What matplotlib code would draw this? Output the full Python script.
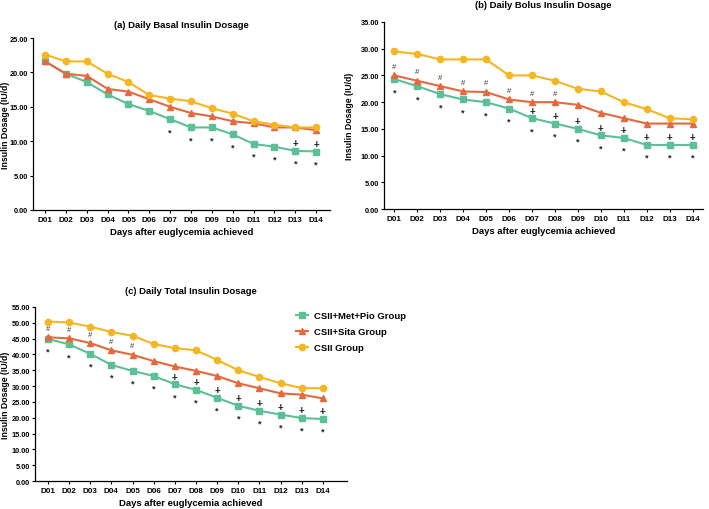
import matplotlib
matplotlib.use("Agg")
import matplotlib.pyplot as plt
import numpy as np

plt.rcParams['font.family'] = ['Liberation Sans', 'DejaVu Sans']
plt.rcParams['font.weight'] = 'bold'

days = ["D01", "D02", "D03", "D04", "D05", "D06", "D07", "D08", "D09", "D10", "D11", "D12", "D13", "D14"]
groups = ["CSII+Met+Pio Group", "CSII+Sita Group", "CSII Group"]

basal_met = [21.6, 19.8, 18.6, 16.8, 15.4, 14.4, 13.2, 12.0, 12.0, 11.0, 9.6, 9.2, 8.6, 8.5]
basal_sita = [21.6, 19.8, 19.5, 17.6, 17.2, 16.1, 15.0, 14.1, 13.6, 12.9, 12.6, 12.0, 12.0, 11.6]
basal_csii = [22.6, 21.6, 21.6, 19.8, 18.6, 16.7, 16.2, 15.8, 14.8, 14.0, 12.9, 12.4, 12.0, 12.0]

bolus_met = [24.3, 23.0, 21.5, 20.5, 20.0, 18.8, 17.0, 16.0, 15.0, 13.8, 13.3, 12.0, 12.0, 12.0]
bolus_sita = [25.0, 24.0, 23.0, 22.0, 21.9, 20.5, 20.0, 20.0, 19.5, 18.0, 17.0, 16.0, 16.0, 16.0]
bolus_csii = [29.5, 29.0, 28.0, 28.0, 28.0, 25.0, 25.0, 24.0, 22.5, 22.0, 20.0, 18.7, 17.0, 16.8]

total_met = [44.9, 43.2, 40.2, 36.7, 34.8, 33.2, 30.6, 28.8, 26.3, 23.8, 22.2, 21.0, 19.9, 19.6]
total_sita = [45.4, 45.1, 43.6, 41.3, 39.9, 37.9, 36.2, 34.8, 33.2, 30.9, 29.3, 27.7, 27.3, 26.1]
total_csii = [50.4, 50.1, 48.8, 47.1, 45.9, 43.3, 42.0, 41.3, 38.3, 35.0, 32.9, 30.9, 29.4, 29.3]

# significance marks (day indices)
basal_star = [6, 7, 8, 9, 10, 11, 12, 13]
basal_plus = [12, 13]
basal_hash = []
bolus_star = list(range(14))
bolus_plus = [6, 7, 8, 9, 10, 11, 12, 13]
bolus_hash = [0, 1, 2, 3, 4, 5, 6, 7]
total_star = list(range(14))
total_plus = [6, 7, 8, 9, 10, 11, 12, 13]
total_hash = [0, 1, 2, 3, 4]

colors = ["#5dbf96", "#e4693f", "#f5b624"]
markers = ["s", "^", "o"]

fig = plt.figure(figsize=(7.09, 5.10), dpi=100)

panels = [
    dict(rect=[0.0465, 0.5863, 0.419, 0.3372], data=(basal_met, basal_sita, basal_csii),
         ymax=25, xlim=(-0.58, 13.67), title="(a) Daily Basal Insulin Dosage",
         star=basal_star, plus=basal_plus, hsh=basal_hash, titlepad=8, ylx=-0.078),
    dict(rect=[0.5416, 0.588, 0.4499, 0.367], data=(bolus_met, bolus_sita, bolus_csii),
         ymax=35, xlim=(-0.45, 13.45), title="(b) Daily Bolus Insulin Dosage",
         star=bolus_star, plus=bolus_plus, hsh=bolus_hash, titlepad=11, ylx=-0.094),
    dict(rect=[0.0494, 0.0549, 0.4396, 0.3412], data=(total_met, total_sita, total_csii),
         ymax=55, xlim=(-0.61, 14.13), title="(c) Daily Total Insulin Dosage",
         star=total_star, plus=total_plus, hsh=total_hash, titlepad=10, ylx=-0.080),
]

handles = []
for p in panels:
    ax = fig.add_axes(p["rect"])
    x = np.arange(len(days))
    hs = []
    for vals, c, m, lab in zip(p["data"], colors, markers, groups):
        h, = ax.plot(x, vals, color=c, marker=m, markersize=4.5, linewidth=1.5, label=lab)
        hs.append(h)
    handles = hs
    met, sita, csii = p["data"]
    for i in p["star"]:
        ax.annotate("*", (x[i], met[i]), xytext=(0, -9), textcoords="offset points",
                    ha="center", va="center", fontsize=6.5, color="#222222")
    for i in p["plus"]:
        ax.annotate("+", (x[i], met[i]), xytext=(0, 5.5), textcoords="offset points",
                    ha="center", va="center", fontsize=7, color="#222222")
    for i in p["hsh"]:
        ax.annotate("#", (x[i], sita[i]), xytext=(0, 6.5), textcoords="offset points",
                    ha="center", va="center", fontsize=5.5, color="#333333", fontweight="normal")
    ax.set_xlim(*p["xlim"])
    ax.set_ylim(0, p["ymax"])
    ax.set_xticks(x)
    ax.set_xticklabels(days)
    yt = np.arange(0, p["ymax"] + 0.1, 5)
    ax.set_yticks(yt)
    ax.set_yticklabels([f"{v:.2f}" for v in yt])
    ax.tick_params(axis="x", labelsize=5.8, length=2.5, width=0.8, pad=1.5)
    ax.tick_params(axis="y", labelsize=5.3, length=2.5, width=0.8, pad=1.2)
    for s in ["top", "right"]:
        ax.spines[s].set_visible(False)
    for s in ["left", "bottom"]:
        ax.spines[s].set_linewidth(0.9)
    ax.set_title(p["title"], fontsize=6.8, fontweight="bold", pad=p["titlepad"])
    ax.set_xlabel("Days after euglycemia achieved", fontsize=6.8, fontweight="bold", labelpad=3)
    ax.set_ylabel("Insulin Dosage (IU/d)", fontsize=6.3, fontweight="bold")
    ax.yaxis.set_label_coords(p["ylx"], 0.5)

fig.legend(handles, groups, loc="upper left", bbox_to_anchor=(0.405, 0.405),
           frameon=False, fontsize=6.8, handlelength=1.3, handletextpad=0.6,
           labelspacing=0.75, markerscale=1.0)

fig.savefig("out.png", dpi=100)
